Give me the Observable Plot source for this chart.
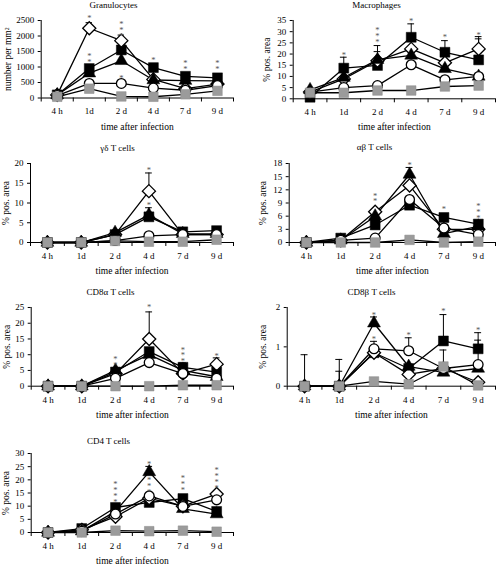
<!DOCTYPE html>
<html>
<head>
<meta charset="utf-8">
<script src="https://cdn.jsdelivr.net/npm/d3@7"></script>
<script src="https://cdn.jsdelivr.net/npm/@observablehq/plot@0.6"></script>
<style>
  html, body { margin: 0; padding: 0; background: #fff; }
  #root { position: relative; width: 496px; height: 565px; overflow: hidden; background: #fff; }
  #root svg { position: absolute; overflow: visible; }
</style>
</head>
<body>
<div id="root"></div>
<script>
// ---- categories ----
const times = ["4 h", "1d", "2 d", "4 d", "7 d", "9 d"];
const seriesNames = ["filled square", "open diamond", "filled triangle", "open circle", "grey square"];
const xLabel = "time after infection";

// ---- values, one row per series (same order as seriesNames) ----
const granulocytes = [
  [100, 950, 1550, 980, 700, 650],
  [100, 2250, 1850, 600, 300, 450],
  [100, 800, 1200, 580, 560, 550],
  [80, 470, 470, 320, 250, 400],
  [40, 300, 50, 40, 120, 230]
];
const macrophages = [
  [0.7, 13.7, 14.9, 27.5, 20.8, 17.4],
  [3, 8.9, 17, 22.3, 16.1, 22.3],
  [4, 9.5, 17.5, 19.4, 13.4, 10],
  [3, 5, 5.9, 15.2, 8.5, 10],
  [2.7, 2.7, 3.7, 3.7, 5.5, 5.9]
];
const gammaDelta = [
  [0, 0, 2, 6.5, 2.7, 3],
  [0, 0, 2, 13, 2, 2],
  [0, 0, 2.5, 7, 2.2, 2.2],
  [0, 0, 0.5, 1.7, 2, 2],
  [0, 0, 0.4, 0.2, 0.2, 0.7]
];
const alphaBeta = [
  [0, 1, 4, 8.5, 5.7, 4.2],
  [0, 0.5, 7, 13, 3, 3],
  [0, 0.5, 6, 15.5, 2, 3.7],
  [0, 0.5, 1, 9.8, 3.3, 1.8],
  [0, 0, 0, 0.6, 0, 0.2]
];
const cd8a = [
  [0, 0, 4.5, 11, 6, 4.5],
  [0, 0, 4, 15, 4, 7],
  [0, 0, 5, 10, 5, 3],
  [0, 0, 2.5, 7.5, 4, 2.5],
  [0, 0, 0, 0, 0.3, 0.3]
];
const cd8b = [
  [0, 0, 0.85, 0.45, 1.15, 0.95],
  [0, 0, 0.85, 0.3, 0.45, 0.1],
  [0, 0, 1.6, 0.5, 0.35, 0.45],
  [0, 0, 0.95, 0.9, 0.45, 0.55],
  [0, 0, 0.12, 0.05, 0.5, 0.02]
];
const cd4 = [
  [0, 1.5, 9.5, 11.4, 12.9, 8],
  [0, 1, 6, 13, 10, 14.6],
  [0, 0.5, 8, 23, 9, 7],
  [0, 0.5, 7, 13.9, 9.9, 12.4],
  [0, 0, 0.7, 0.5, 0.7, 0.3]
];

// ---- upper error bars: [series, time, top] ----
const granulocytesErr = [[1, 1, 2430], [1, 2, 2030], [0, 2, 1650]];
const macrophagesErr = [[0, 1, 18.6], [0, 2, 21.1], [1, 2, 23.8], [0, 3, 33.5], [0, 4, 26], [1, 5, 27.8], [0, 5, 26.8]];
const gammaDeltaErr = [[1, 3, 17.6], [0, 3, 8.8]];
const alphaBetaErr = [[2, 3, 17.1]];
const cd8aErr = [[1, 3, 23.6], [1, 5, 9.0], [0, 4, 7.4]];
const cd8bErr = [[0, 0, 0.8], [3, 1, 0.68], [2, 1, 0.38], [2, 2, 1.76], [3, 2, 1.14], [3, 3, 1.23], [0, 4, 1.82], [1, 4, 0.92], [0, 5, 1.36], [3, 5, 1.17]];
const cd4Err = [[2, 3, 25.1]];

// ---- significance asterisks: [time, lowest star value, count] ----
const granulocytesStars = [[1, 2660, 1], [1, 1230, 2], [2, 2070, 3], [2, 720, 1], [3, 1290, 1], [4, 1010, 2], [5, 1010, 2]];
const macrophagesStars = [[1, 20.5, 1], [2, 26.2, 3], [3, 35.5, 1], [4, 28.3, 1], [5, 29.5, 1]];
const gammaDeltaStars = [[3, 18.8, 1], [3, 9.9, 1]];
const alphaBetaStars = [[2, 9.8, 2], [3, 18.2, 1], [4, 8.0, 1], [5, 6.0, 3]];
const cd8aStars = [[2, 7.4, 2], [3, 25.7, 1], [4, 8.5, 3], [5, 10.2, 1]];
const cd8bStars = [[2, 1.86, 1], [2, 1.25, 1], [3, 1.34, 1], [4, 1.95, 1], [5, 1.48, 1]];
const cd4Stars = [[2, 12.4, 4], [3, 26.8, 1], [3, 16.2, 3], [4, 16.9, 3], [5, 17.7, 4]];

// ---- titles / axes ----
const titles = ["Granulocytes", "Macrophages", "\u03b3\u03b4 T cells", "\u03b1\u03b2 T cells", "CD8\u03b1 T cells", "CD8\u03b2 T cells", "CD4 T cells"];
const yLabels = ["number per mm\u00b2", "% pos. area", "% pos. area", "% pos. area", "% pos. area", "% pos. area", "% pos. area"];
const yMaxes = [2500, 35, 20, 18, 25, 2, 30];
const ySteps = [500, 5, 5, 3, 5, 1, 5];

// ---- layout (pixels) ----
const layout = [
  {col: 0, plotLeft: 40.7, plotRight: 233, plotTop: 20, plotBottom: 97.5, titleX: 113, titleY: 5, yLabelX: 7},
  {col: 1, plotLeft: 292.7, plotRight: 495, plotTop: 20, plotBottom: 98.3, titleX: 376, titleY: 5, yLabelX: 266},
  {col: 0, plotLeft: 30, plotRight: 233, plotTop: 163.3, plotBottom: 242.3, titleX: 117, titleY: 148, yLabelX: 5},
  {col: 1, plotLeft: 288.7, plotRight: 495, plotTop: 163.3, plotBottom: 242.3, titleX: 374, titleY: 146.5, yLabelX: 262.7},
  {col: 0, plotLeft: 30.7, plotRight: 233, plotTop: 307.3, plotBottom: 386, titleX: 110, titleY: 292, yLabelX: 6},
  {col: 1, plotLeft: 286.7, plotRight: 495, plotTop: 307.3, plotBottom: 386, titleX: 371, titleY: 292, yLabelX: 262.7},
  {col: 0, plotLeft: 30.7, plotRight: 233, plotTop: 452.7, plotBottom: 531.7, titleX: 108, titleY: 440.5, yLabelX: 5}
];

const datasets = [granulocytes, macrophages, gammaDelta, alphaBeta, cd8a, cd8b, cd4];
const errsets = [granulocytesErr, macrophagesErr, gammaDeltaErr, alphaBetaErr, cd8aErr, cd8bErr, cd4Err];
const starsets = [granulocytesStars, macrophagesStars, gammaDeltaStars, alphaBetaStars, cd8aStars, cd8bStars, cd4Stars];

const symbolStyle = [
  {symbol: "square", r: 5.6, fill: "black", stroke: "black", strokeWidth: 0.5},
  {symbol: "diamond2", r: 5.9, fill: "white", stroke: "black", strokeWidth: 1.3},
  {symbol: "triangle", r: 4.8, fill: "black", stroke: "black", strokeWidth: 0.5},
  {symbol: "circle", r: 4.9, fill: "white", stroke: "black", strokeWidth: 1.3},
  {symbol: "square", r: 5.4, fill: "#9b9b9b", stroke: "#8a8a8a", strokeWidth: 0.5}
];

const root = document.getElementById("root");
const font = "'Liberation Serif', 'Times New Roman', serif";
const marginTop = 20, marginBottom = 40;

datasets.forEach((data, p) => {
  const L = layout[p];
  const svgLeft = L.col === 0 ? 0 : 248;
  const svgWidth = L.col === 0 ? 240 : 248;
  const plotH = L.plotBottom - L.plotTop;
  const height = marginTop + plotH + marginBottom;
  const rows = data.map((vals, s) => vals.map((v, i) => ({s, i, v})));
  const errs = errsets[p].map(([s, i, top]) => ({s, i, top, v: data[s][i]}));
  const stars = starsets[p].map(([i, y, n]) => ({i, y, text: Array(n).fill("*").join("\n")}));
  const yTicks = d3.range(0, yMaxes[p] + ySteps[p] / 2, ySteps[p]);
  const plotCenter = (L.plotLeft + L.plotRight) / 2;

  const marks = [
    Plot.ruleY([0], {stroke: "black", strokeWidth: 1}),
    Plot.ruleX([-0.5], {stroke: "black", strokeWidth: 1}),
    Plot.axisY({ticks: yTicks, tickSize: 3, tickPadding: 4, tickFormat: d => String(d), label: null, fontSize: 9}),
    Plot.axisX({ticks: d3.range(-0.5, 6, 1), tickSize: 4, tickFormat: () => "", label: null}),
    Plot.axisX({ticks: d3.range(times.length), tickSize: 0, tickPadding: 10, tickFormat: i => times[i], label: null, fontSize: 9}),
    Plot.ruleX(errs, {x: "i", y1: "v", y2: "top", stroke: "black", strokeWidth: 1}),
    Plot.ruleY(errs, {x1: d => d.i - 0.1, x2: d => d.i + 0.1, y: "top", stroke: "black", strokeWidth: 1})
  ];
  rows.forEach(r => marks.push(Plot.line(r, {x: "i", y: "v", stroke: "black", strokeWidth: 1.3})));
  rows.forEach((r, s) => marks.push(Plot.dot(r, {x: "i", y: "v", ...symbolStyle[s]})));
  marks.push(
    Plot.text(stars, {x: "i", y: "y", text: "text", lineAnchor: "bottom", lineHeight: 0.7, fontSize: 8.5, fill: "#555", dy: 5}),
    Plot.text([titles[p]], {frameAnchor: "top", text: d => d, textAnchor: "middle", lineAnchor: "middle", dx: L.titleX - plotCenter, dy: L.titleY - L.plotTop, fontSize: 9}),
    Plot.text([xLabel], {frameAnchor: "bottom", text: d => d, textAnchor: "middle", lineAnchor: "middle", dy: 28.5, fontSize: 9.5}),
    Plot.text([yLabels[p]], {frameAnchor: "left", text: d => d, textAnchor: "middle", lineAnchor: "middle", rotate: -90, dx: L.yLabelX - L.plotLeft, fontSize: 9.5})
  );

  const svg = Plot.plot({
    width: svgWidth,
    height,
    marginLeft: L.plotLeft - svgLeft,
    marginRight: svgLeft + svgWidth - L.plotRight,
    marginTop,
    marginBottom,
    x: {type: "linear", domain: [-0.5, 5.5]},
    y: {type: "linear", domain: [0, yMaxes[p]]},
    style: {fontFamily: font, fontSize: "9px", color: "black", background: "transparent", overflow: "visible"},
    marks
  });
  svg.style.left = svgLeft + "px";
  svg.style.top = (L.plotTop - marginTop) + "px";
  root.appendChild(svg);
});
</script>
</body>
</html>
